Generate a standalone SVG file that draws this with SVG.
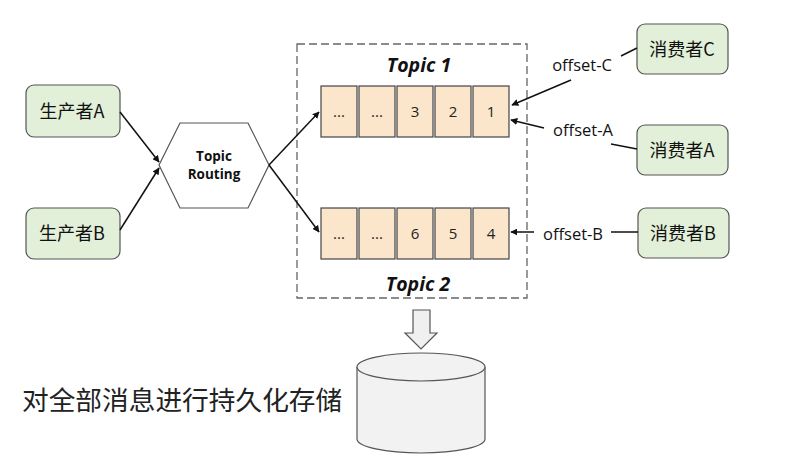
<svg xmlns="http://www.w3.org/2000/svg" width="788" height="470" viewBox="0 0 788 470">
<defs>
<style>
.node{fill:#e2efd9;stroke:#555;stroke-width:1.2}
.cell{fill:#fbe6cc;stroke:#444;stroke-width:1.2}
.t{font-family:"Open Sans","Noto Sans CJK SC",sans-serif;fill:#111;text-anchor:middle}
.cn{font-family:"Noto Sans CJK SC","Open Sans",sans-serif;font-size:18px;fill:#111;text-anchor:middle}
.num{font-family:"Open Sans",sans-serif;font-size:15px;fill:#222;text-anchor:middle}
.topic{font-family:"Open Sans",sans-serif;font-size:19.5px;font-weight:bold;font-style:italic;fill:#111;text-anchor:middle}
.lbl{font-family:"Open Sans",sans-serif;font-size:16.5px;fill:#111;text-anchor:middle}
.edge{fill:none;stroke:#111;stroke-width:1.5}
.arr{marker-end:url(#ah)}
</style>
<marker id="ah" viewBox="0 0 10 10" refX="9" refY="5" markerWidth="7" markerHeight="7" orient="auto" markerUnits="userSpaceOnUse">
<path d="M0,0 L10,5 L0,10 z" fill="#111"/>
</marker>
</defs>
<rect width="788" height="470" fill="#fff"/>

<g id="topics-box">
<rect x="297" y="44" width="230" height="254" fill="none" stroke="#666" stroke-width="1.3" stroke-dasharray="8,4"/>
<text class="topic" x="419" y="72">Topic 1</text>
<text class="topic" x="418" y="291">Topic 2</text>
</g>

<g id="producer-a"><rect class="node" x="26" y="85" width="94" height="52" rx="8"/><text class="cn" x="72" y="118">生产者A</text></g>
<g id="producer-b"><rect class="node" x="26" y="208" width="94" height="51" rx="8"/><text class="cn" x="72" y="240">生产者B</text></g>

<g id="topic-routing">
<polygon points="159,165 180,123 248,123 269,165 248,208 180,208" fill="#fff" stroke="#555" stroke-width="1.2"/>
<text class="t" x="214" y="161" font-size="13.5" font-weight="bold">Topic</text>
<text class="t" x="214" y="179" font-size="13.5" font-weight="bold">Routing</text>
</g>

<g id="queue-1">
<rect class="cell" x="321" y="86" width="36" height="51"/>
<rect class="cell" x="359" y="86" width="36" height="51"/>
<rect class="cell" x="397" y="86" width="36" height="51"/>
<rect class="cell" x="435" y="86" width="36" height="51"/>
<rect class="cell" x="473" y="86" width="36" height="51"/>
<text class="num" x="339" y="117" font-size="11" fill="#555">...</text>
<text class="num" x="377" y="117">...</text>
<text class="num" x="415" y="117">3</text>
<text class="num" x="453" y="117">2</text>
<text class="num" x="491" y="117">1</text>
</g>

<g id="queue-2">
<rect class="cell" x="321" y="208" width="36" height="51"/>
<rect class="cell" x="359" y="208" width="36" height="51"/>
<rect class="cell" x="397" y="208" width="36" height="51"/>
<rect class="cell" x="435" y="208" width="36" height="51"/>
<rect class="cell" x="473" y="208" width="36" height="51"/>
<text class="num" x="339" y="239" font-size="11" fill="#555">...</text>
<text class="num" x="377" y="239" font-size="11" fill="#555">...</text>
<text class="num" x="415" y="239">6</text>
<text class="num" x="453" y="239">5</text>
<text class="num" x="491" y="239">4</text>
</g>

<g id="consumer-c"><rect class="node" x="637" y="24" width="91" height="50" rx="8"/><text class="cn" x="682" y="56">消费者C</text></g>
<g id="consumer-a"><rect class="node" x="637" y="125" width="91" height="50" rx="8"/><text class="cn" x="682" y="157">消费者A</text></g>
<g id="consumer-b"><rect class="node" x="638" y="208" width="91" height="50" rx="8"/><text class="cn" x="683" y="240">消费者B</text></g>

<g id="storage">
<path d="M413,310 L430,310 L430,333 L437,333 L421,349 L405,333 L413,333 Z" fill="#f0f0f0" stroke="#555" stroke-width="1.2"/>
<path d="M357,367 L357,439 A64,14 0 0 0 485,439 L485,367" fill="#f2f2f2" stroke="#555" stroke-width="1.2"/>
<ellipse cx="421" cy="367" rx="64" ry="14" fill="#f2f2f2" stroke="#555" stroke-width="1.2"/>
<text x="22" y="410" font-family="Noto Sans CJK SC,sans-serif" font-size="26.7" fill="#222">对全部消息进行持久化存储</text>
</g>

<g id="connectors">
<line class="edge" x1="637" y1="48" x2="621" y2="56" stroke-width="1.2"/>
<line class="edge arr" x1="571" y1="80" x2="512" y2="105"/>
<line class="edge arr" x1="544" y1="128" x2="511" y2="120"/>
<line class="edge" x1="611" y1="144" x2="637" y2="149" stroke-width="1.2"/>
<line class="edge arr" x1="534" y1="232" x2="511" y2="232"/>
<line class="edge" x1="611" y1="232" x2="638" y2="232" stroke-width="1.2"/>
<line class="edge arr" x1="120" y1="112" x2="159" y2="162"/>
<line class="edge arr" x1="120" y1="230" x2="159" y2="168"/>
<line class="edge arr" x1="269" y1="165" x2="319" y2="112"/>
<line class="edge arr" x1="269" y1="165" x2="319" y2="232"/>
<text class="lbl" x="582" y="71">offset-C</text>
<text class="lbl" x="583" y="136">offset-A</text>
<text class="lbl" x="573" y="240">offset-B</text>
</g>
</svg>
